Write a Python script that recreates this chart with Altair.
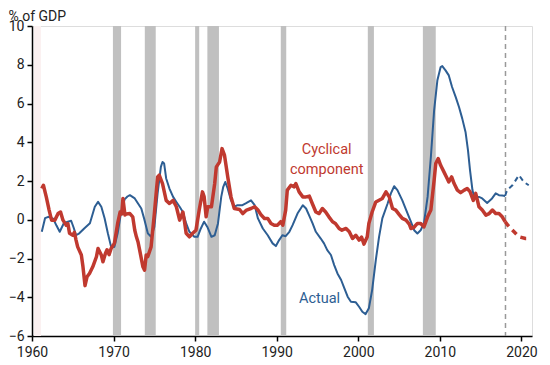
import altair as alt
import pandas as pd

# ---- data ----
actual_years = [1961.2, 1961.6, 1962.0, 1962.6, 1963.0, 1963.4, 1963.9, 1964.4, 1964.8, 1965.1,
                1965.4, 1965.8, 1966.4, 1967.1, 1967.7, 1968.1, 1968.5, 1968.9, 1969.3, 1969.7,
                1970.1, 1970.5, 1970.9, 1971.35, 1971.7, 1972.0, 1972.6, 1973.0, 1973.4, 1973.8,
                1974.2, 1974.6, 1975.0, 1975.4, 1975.8, 1976.0, 1976.2, 1976.45, 1976.85, 1977.3,
                1977.7, 1978.1, 1978.5, 1978.9, 1979.3, 1979.9, 1980.3, 1980.7, 1981.1, 1981.5,
                1982.0, 1982.4, 1982.8, 1983.2, 1983.45, 1983.7, 1984.0, 1984.4, 1984.8, 1985.2,
                1985.8, 1986.2, 1986.85, 1987.3, 1987.7, 1988.3, 1988.9, 1989.5, 1989.9, 1990.3,
                1990.7, 1991.1, 1991.55, 1991.95, 1992.55, 1993.2, 1993.6, 1994.0, 1994.4, 1994.8,
                1995.4, 1995.8, 1996.2, 1996.65, 1997.05, 1997.45, 1997.9, 1998.3, 1998.7, 1999.1,
                1999.7, 2000.1, 2000.5, 2000.9, 2001.3, 2001.7, 2002.15, 2002.55, 2002.95, 2003.6,
                2004.0, 2004.4, 2004.8, 2005.4, 2006.05, 2006.45, 2006.85, 2007.25, 2007.65, 2008.05,
                2008.5, 2008.9, 2009.3, 2009.7, 2010.1, 2010.3, 2010.7, 2011.1, 2011.5, 2011.95,
                2012.35, 2012.75, 2013.15, 2013.45, 2013.7, 2014.0, 2014.2, 2014.8, 2015.2, 2015.8,
                2016.4, 2016.85, 2017.25, 2017.65, 2018.0]
actual_values = [-0.62, 0.08, 0.15, 0.05, -0.3, -0.62, -0.18, -0.1, -0.05, -0.4,
                 -0.8, -0.7, -0.45, -0.18, 0.67, 0.92, 0.67, 0.08, -0.7, -1.4,
                 -1.4, -0.7, 0.33, 1.05, 1.2, 1.27, 1.1, 0.84, 0.58, -0.02,
                 -0.7, -0.88, -0.37, 1.36, 2.73, 2.98, 2.9, 2.13, 1.61, 1.18,
                 0.92, 0.67, 0.4, -0.19, -0.62, -0.88, -0.88, -0.45, -0.1, -0.37,
                 -0.88, -0.8, -0.19, 1.18, 1.7, 1.95, 1.6, 1.0, 0.67, 0.75,
                 0.75, 0.84, 1.0, 0.75, 0.07, -0.45, -0.8, -1.22, -1.36, -1.05,
                 -0.8, -0.85, -0.62, -0.28, 0.32, 0.75, 0.58, 0.2, -0.19, -0.62,
                 -0.97, -1.22, -1.57, -1.82, -2.34, -2.77, -3.11, -3.54, -3.97, -4.23,
                 -4.26, -4.49, -4.75, -4.87, -4.57, -3.63, -2.08, -0.88, 0.07, 0.84,
                 1.36, 1.73, 1.53, 1.0, 0.32, -0.1, -0.54, -0.71, -0.54, -0.19,
                 1.18, 3.24, 5.65, 7.2, 7.88, 7.93, 7.71, 7.45, 6.85, 6.33,
                 5.82, 5.22, 4.53, 3.59, 2.56, 1.53, 1.18, 1.18, 1.1, 0.87,
                 1.1, 1.36, 1.27, 1.25, 1.23]
actual_proj_years = [2018.0, 2018.25, 2018.9, 2019.7, 2020.3, 2020.9]
actual_proj_values = [1.23, 1.53, 1.78, 2.3, 1.95, 1.78]

cyc_years = [1961.2, 1961.4, 1961.75, 1962.1, 1962.4, 1962.8, 1963.2, 1963.5, 1963.8, 1964.2,
             1964.4, 1964.6, 1965.0, 1965.2, 1965.4, 1965.6, 1966.05, 1966.25, 1966.5, 1966.75,
             1967.05, 1967.45, 1967.9, 1968.1, 1968.5, 1968.7, 1969.0, 1969.2, 1969.45, 1969.7,
             1970.1, 1970.5, 1970.8, 1971.0, 1971.15, 1971.4, 1971.55, 1972.0, 1972.35, 1972.6,
             1972.8, 1973.0, 1973.2, 1973.6, 1973.8, 1974.0, 1974.2, 1974.6, 1975.0, 1975.4,
             1975.6, 1976.0, 1976.45, 1976.85, 1977.3, 1977.7, 1978.1, 1978.5, 1978.7, 1978.9,
             1979.3, 1979.7, 1980.1, 1980.5, 1980.9, 1981.1, 1981.35, 1981.55, 1982.0, 1982.4,
             1982.6, 1983.0, 1983.3, 1983.6, 1984.0, 1984.4, 1984.8, 1985.45, 1985.85, 1986.3,
             1986.85, 1987.3, 1987.7, 1988.1, 1988.5, 1988.9, 1989.3, 1989.7, 1990.1, 1990.5,
             1990.75, 1991.1, 1991.3, 1991.75, 1992.15, 1992.35, 1992.75, 1993.2, 1993.6, 1994.0,
             1994.4, 1994.8, 1995.2, 1995.6, 1996.0, 1996.4, 1996.85, 1997.2, 1997.65, 1998.0,
             1998.5, 1998.9, 1999.3, 1999.7, 2000.1, 2000.4, 2000.7, 2001.1, 2001.3, 2001.7,
             2002.15, 2002.55, 2002.95, 2003.4, 2003.8, 2004.2, 2004.6, 2005.0, 2005.4, 2005.85,
             2006.25, 2006.45, 2006.8, 2007.25, 2007.65, 2008.05, 2008.5, 2008.9, 2009.3, 2009.5,
             2009.8, 2010.1, 2010.5, 2010.9, 2011.1, 2011.45, 2011.75, 2012.15, 2012.55, 2013.0,
             2013.35, 2013.7, 2014.1, 2014.4, 2014.8, 2015.2, 2015.65, 2016.05, 2016.45, 2016.85,
             2017.25, 2017.65, 2018.0]
cyc_values = [1.61, 1.78, 1.18, 0.5, -0.02, -0.02, 0.32, 0.4, -0.02, -0.28,
              -0.2, -0.7, -0.8, -0.65, -1.05, -1.4, -1.82, -2.43, -3.4, -2.94,
              -2.77, -2.43, -1.91, -1.48, -1.82, -2.17, -1.74, -1.55, -1.8, -1.48,
              -1.22, -0.19, 0.4, 0.3, 1.1, 0.24, 0.3, 0.32, 0.15, -0.54,
              -0.88, -1.15, -1.57, -2.43, -2.6, -1.82, -1.9, -1.4, 0.32, 2.21,
              2.3, 1.87, 1.0, 0.84, 1.0, 0.67, -0.02, 0.4, -0.1, -0.7,
              -0.88, -0.7, -0.54, 0.5, 1.44, 1.2, 0.15, 0.67, 0.67, 1.87,
              2.73, 2.98, 3.67, 3.33, 2.21, 1.18, 0.58, 0.53, 0.32, 0.5,
              0.58, 0.67, 0.5, 0.24, 0.07, 0.07, -0.19, -0.28, -0.28, -0.1,
              -0.28, 0.5, 1.53, 1.78, 1.7, 1.87, 1.44, 1.18, 1.18, 1.22,
              0.8, 0.4, 0.32, 0.58, 0.4, 0.15, -0.1, -0.19, -0.45, -0.54,
              -0.45, -0.62, -0.97, -0.8, -1.05, -0.9, -1.26, -0.88, -0.19, 0.4,
              0.92, 1.01, 1.1, 1.44, 1.18, 0.58, 0.5, 0.28, 0.07, -0.02,
              -0.22, -0.45, -0.4, -0.19, -0.19, -0.37, 0.15, 0.5, 2.04, 2.9,
              3.16, 2.81, 2.47, 2.13, 1.95, 2.21, 1.87, 1.53, 1.4, 1.53,
              1.61, 1.45, 1.0, 1.36, 0.67, 0.5, 0.24, 0.32, 0.5, 0.32,
              0.32, 0.15, -0.1]
cyc_proj_years = [2018.0, 2018.5, 2019.1, 2019.7, 2020.5, 2020.9]
cyc_proj_values = [-0.1, -0.37, -0.62, -0.88, -0.97, -0.97]

rec_start = [1969.92, 1973.83, 1980.0, 1981.5, 1990.5, 2001.17, 2007.92]
rec_end = [1970.92, 1975.17, 1980.5, 1982.92, 1991.17, 2001.92, 2009.5]
faint_start = [1960.25]
faint_end = [1961.1]
proj_line_year = [2018.05]

label_text = ["Cyclical", "component", "Actual"]
label_year = [1996.13, 1996.13, 1995.25]
label_value = [3.59, 2.56, -4.09]
label_series = ["c", "c", "a"]

x_ticks = [1960, 1970, 1980, 1990, 2000, 2010, 2020]
y_ticks = [-6, -4, -2, 0, 2, 4, 6, 8, 10]

BLUE = "#2d5e93"
RED = "#c0392f"
FONT = "Roboto"

actual_df = pd.DataFrame({"year": actual_years, "value": actual_values})
actual_proj_df = pd.DataFrame({"year": actual_proj_years, "value": actual_proj_values})
cyc_df = pd.DataFrame({"year": cyc_years, "value": cyc_values})
cyc_proj_df = pd.DataFrame({"year": cyc_proj_years, "value": cyc_proj_values})
rec_df = pd.DataFrame({"start": rec_start, "end": rec_end})
faint_df = pd.DataFrame({"start": faint_start, "end": faint_end})
label_df = pd.DataFrame({"text": label_text, "year": label_year,
                         "value": label_value, "series": label_series})

xs = alt.Scale(domain=[1960, 2021.3], nice=False, zero=False)
ys = alt.Scale(domain=[-6, 10], nice=False, zero=False)

x_axis = alt.Axis(values=x_ticks, format="d", title=None, grid=False,
                  labelFlush=False, labelOverlap=False, tickCount=7)
y_axis = alt.Axis(values=y_ticks, format="d", title="% of GDP", grid=False,
                  labelFlush=False, labelOverlap=False, labelSeparation=0,
                  tickCount=9)

X = alt.X("year:Q", scale=xs, axis=x_axis)
Y = alt.Y("value:Q", scale=ys, axis=y_axis)

faint = alt.Chart(faint_df).mark_rect(color="#fbf1f1").encode(
    x=alt.X("start:Q", scale=xs, axis=x_axis), x2="end:Q")

rec = alt.Chart(rec_df).mark_rect(color="#c0c0c0").encode(
    x=alt.X("start:Q", scale=xs, axis=x_axis), x2="end:Q")

vline = alt.Chart(pd.DataFrame({"year": proj_line_year})).mark_rule(
    color="#999999", strokeDash=[5, 4], strokeWidth=1.5
).encode(x=X)

def line(df, color, width, dash=None):
    kw = dict(color=color, strokeWidth=width, strokeJoin="round")
    if dash is not None:
        kw["strokeDash"] = dash
    return alt.Chart(df).mark_line(**kw).encode(x=X, y=Y)

actual_line = line(actual_df, BLUE, 2)
actual_proj = line(actual_proj_df, BLUE, 2, [5, 4])
cyc_line = line(cyc_df, RED, 3.5)
cyc_proj = line(cyc_proj_df, RED, 3.5, [6, 5])

labels = alt.Chart(label_df).mark_text(fontSize=14.5, font=FONT).encode(
    x=X, y=Y, text="text:N",
    color=alt.Color("series:N", scale=alt.Scale(domain=["c", "a"], range=[RED, BLUE]),
                    legend=None),
)

chart = alt.layer(
    faint, rec, vline, actual_line, actual_proj, cyc_line, cyc_proj, labels
).properties(
    width=500, height=310,
    autosize=alt.AutoSizeParams(type="none"),
    padding={"left": 24, "top": 18, "right": 10, "bottom": 29},
).configure_view(stroke=None).configure(background="white").configure_axis(
    labelFontSize=14, labelFont=FONT, labelColor="#222222",
    tickSize=5, tickColor="#000000", domainColor="#000000",
    domainWidth=1.5, tickWidth=1.5, labelOverlap=False, labelFlush=False,
    grid=False,
).configure_axisX(labelPadding=4).configure_axisY(
    labelPadding=3,
    titleAngle=0, titleX=-24, titleY=-6, titleAlign="left",
    titleBaseline="alphabetic", titleFontSize=14, titleFont=FONT,
    titleFontWeight="normal", titleColor="#222222",
)

chart.save("out.html", embed_options={"renderer": "svg", "actions": False})
